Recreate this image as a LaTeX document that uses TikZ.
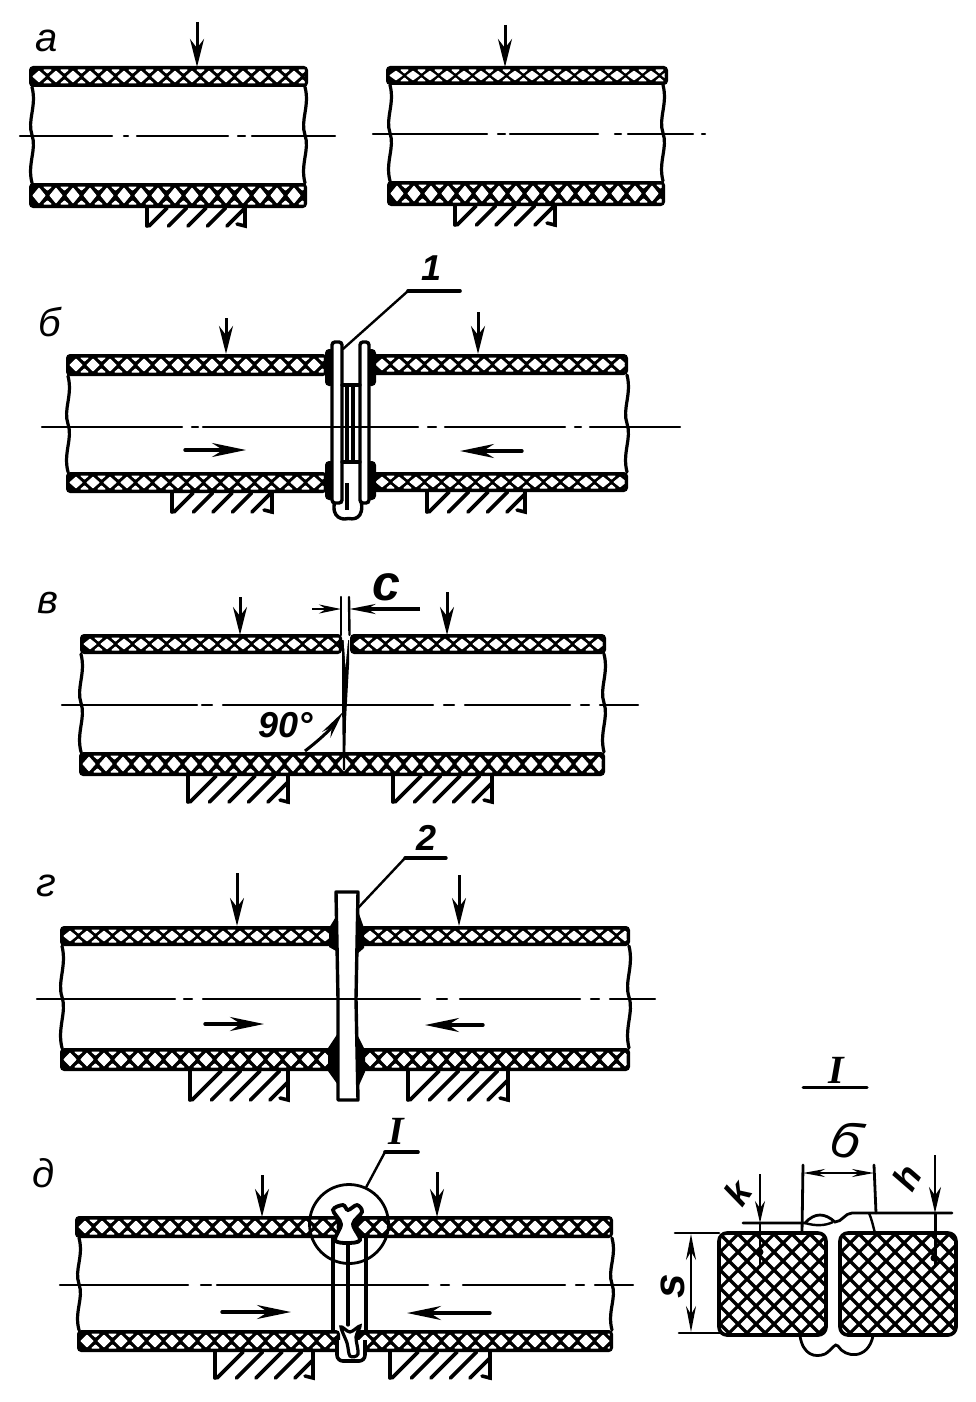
\documentclass[tikz,border=0pt]{standalone}
\usepackage{fontspec}
\usetikzlibrary{arrows.meta}
\newfontfamily\labf{Liberation Sans}
\newfontfamily\labs{Liberation Serif}
\tikzset{
  lab/.style={inner sep=0pt,font=\labf\fontsize{20}{20}\selectfont\itshape},
  labb/.style={inner sep=0pt,font=\labf\fontsize{18}{18}\selectfont\bfseries\itshape},
  labrom/.style={inner sep=0pt,font=\labs\fontsize{20}{20}\selectfont\bfseries\itshape},
  contour/.style={line width=1.6pt,line cap=round},
  thinl/.style={line width=1.2pt,line cap=round},
  centerl/.style={line width=1.2pt,line cap=round},
  load/.style={line width=1.5pt,-{Stealth[length=14pt,width=7pt]}},
  flow/.style={line width=1.7pt,line cap=round,-{Stealth[length=17pt,width=7pt]}},
  dim/.style={line width=1pt,-{Stealth[length=10pt,width=4pt]}},
  hatchl/.style={line width=1.8pt,line cap=round},
  plate/.style={line width=1.7pt,fill=white,rounded corners=1.5pt},
  blob/.style={fill=white,draw=white,line width=0.5pt,line join=round}
}
% wall band: x1,x2,ytop,ybottom
\newcommand\wall[4]{%
  \fill[rounded corners=2pt] (#1,#3) rectangle (#2,#4);
  \begin{scope}
    \clip ({#1+3.5},{#3+3.5}) rectangle ({#2-3.5},{#4-3.5});
    \pgfmathsetmacro\ym{(#3+#4)/2}
    \pgfmathsetmacro\hd{(#4-#3)/2-5.2}
    \pgfmathtruncatemacro\nn{(#2-#1)/17}
    \foreach \n in {0,...,\nn}{
      \pgfmathsetmacro\kk{#1+10+17*\n}
      \path[blob] ({\kk-6},\ym) -- (\kk,{\ym-\hd}) -- ({\kk+6},\ym) -- (\kk,{\ym+\hd}) -- cycle;
      \path[blob] ({\kk+5},{#3+4}) -- ({\kk+12},{#3+4}) -- ({\kk+8.5},{#3+7}) -- cycle;
      \path[blob] ({\kk+5},{#4-4}) -- ({\kk+12},{#4-4}) -- ({\kk+8.5},{#4-7}) -- cycle;
    }
  \end{scope}}
% wavy break line: x,y1,y2
\newcommand\brk[3]{%
  \draw[contour] (#1,#2) .. controls ({#1+5},{#2*0.8+#3*0.2}) and ({#1-5},{#2*0.65+#3*0.35}) .. ({#1},{(#2+#3)/2})
     .. controls ({#1+5},{#2*0.35+#3*0.65}) and ({#1-5},{#2*0.2+#3*0.8}) .. (#1,#3);}
% support hatch: x1,x2,y1,y2
\newcommand\supp[4]{%
  \draw[hatchl] (#1,#3) -- (#1,#4);
  \draw[hatchl] (#2,#3) -- (#2,#4) -- ({#2-8},{#4-2});
  \pgfmathsetmacro\hh{#4-#3}
  \begin{scope}
    \clip (#1,#3) rectangle (#2,{#4+1});
    \foreach \n in {0,...,5}{
      \pgfmathsetmacro\kk{#1+2+19.5*\n}
      \draw[hatchl] (\kk,#4) -- ({\kk+\hh},#3);
    }
  \end{scope}}
% detail weave: x1,x2,y1,y2
\newcommand\block[4]{%
  \begin{scope}
    \clip[rounded corners=4pt] (#1,#3) rectangle (#2,#4);
    \foreach \n in {-8,...,14}{
      \pgfmathsetmacro\kk{#1+18*\n}
      \draw[line width=1.6pt] (\kk,#3) -- ({\kk+110},{#3+110});
      \draw[line width=1.6pt] ({\kk+110},#3) -- (\kk,{#3+110});
    }
  \end{scope}
  \draw[line width=1.8pt,rounded corners=4pt] (#1,#3) rectangle (#2,#4);}
% centre line: y, list of x1/x2 strokes
\newcommand\cl[2]{\foreach \p/\q in {#2}{\draw[centerl] (\p,#1) -- (\q,#1);}}
\begin{document}
\begin{tikzpicture}[x=0.5pt,y=-0.5pt]
\useasboundingbox (0,0) rectangle (975,1402);
\fill[white] (0,0) rectangle (975,1402);

% ---------- panel a
\node[lab] (la) at (47,41) {а};
\wall{29}{308}{66}{87}\wall{29}{307}{183}{208}
\brk{32}{87}{183}\brk{305}{87}{183}
\cl{136}{20/112,124/128,137/228,238/245,252/335}
\draw[load] (197,22) -- (197,67);
\supp{147}{245}{208}{226}
\wall{386}{668}{66}{85}\wall{387}{665}{181}{206}
\brk{390}{85}{181}\brk{663}{85}{181}
\cl{134}{373/487,498/505,510/598,615/621,628/693,702/705}
\draw[load] (505,25) -- (505,67);
\supp{455}{555}{206}{225}

% ---------- panel b
\node[lab] (lb) at (50,322) {б};
\wall{66}{327}{354}{376}\wall{372}{628}{354}{375}
\wall{66}{327}{472}{493}\wall{372}{628}{472}{492}
\brk{68}{376}{472}\brk{627}{375}{472}
\cl{427}{42/182,192/198,203/418,428/436,445/565,575/581,590/680}
\draw[load] (226,318) -- (226,354);
\draw[load] (478,312) -- (478,354);
\draw[flow] (185,450) -- (246,450);
\draw[flow] (522,451) -- (460,451);
\supp{172}{272}{493}{512}\supp{427}{525}{492}{512}
% flange
\fill[rounded corners=2pt] (325,349) rectangle (334,386);
\fill[rounded corners=2pt] (325,461) rectangle (334,500);
\fill[rounded corners=2pt] (367,349) rectangle (376,386);
\fill[rounded corners=2pt] (367,461) rectangle (376,500);
\draw[plate] (335,500) .. controls (330,520) and (345,519) .. (348,518) .. controls (352,519) and (365,520) .. (361,500);
\draw[plate] (332,342) rectangle (342,503);
\draw[plate] (360,342) rectangle (369,503);
\draw[contour] (342,385) -- (360,385);\draw[contour] (342,462) -- (360,462);
\foreach \xx in {347,353}{\draw[contour] (\xx,385) -- (\xx,462);}
\draw[line width=1.8pt] (347,483) -- (347,510);
\draw[centerl] (332,427) -- (369,427);
\coordinate (l1a) at (343,349);\coordinate (l1b) at (408,291);\coordinate (l1c) at (460,291);
\draw[thinl] (l1a) -- (l1b);\draw[line width=1.8pt,line cap=round] (l1b) -- (l1c);
\node[labb] (n1) at (432,268) {1};

% ---------- panel v
\node[lab] (lv) at (48,603) {в};
\wall{80}{342}{634}{654}\wall{350}{606}{634}{654}
\wall{79}{605}{752}{776}
\brk{81}{654}{752}\brk{604}{654}{752}
\cl{705}{62/197,202/212,223/433,444/454,465/570,581/589,600/638}
\fill (342,640) -- (349,640) -- (349,665) -- (346,720) -- (345,770) -- (343,770) -- (342,700) -- cycle;
\fill[white] (343,630) -- (349,630) -- (345.5,667) -- cycle;
\coordinate (c1) at (341,597);\coordinate (c2) at (349,597);
\draw[thinl] (c1) -- (341,635);\draw[thinl] (c2) -- (349.5,635);
\draw[line width=1.2pt,-{Stealth[length=11pt,width=4.5pt]}] (312,609) -- (341,609);
\draw[line width=1.6pt,-{Stealth[length=13pt,width=5pt]}] (420,609) -- (349.5,609);
\node[inner sep=0pt,font=\labf\fontsize{25}{25}\selectfont\bfseries\itshape] (lc) at (386,587) {с};
\draw[load] (240,597) -- (240,635);
\draw[load] (447,592) -- (447,635);
\draw[line width=1.5pt,{Stealth[length=14pt,width=5pt]}-] (343,712) to[bend left=8] (305,751);
\node[labb] (l90) at (286,725) {90°};
\supp{188}{288}{776}{802}\supp{393}{492}{776}{802}

% ---------- panel g
\node[lab] (lg) at (46,886) {г};
\wall{60}{334}{926}{946}\wall{360}{630}{926}{946}
\wall{60}{334}{1048}{1071}\wall{360}{630}{1048}{1071}
\brk{62}{946}{1048}\brk{629}{946}{1048}
\cl{999}{37/175,184/192,203/420,437/447,460/580,591/599,610/655}
\draw[load] (237,873) -- (237,926);
\draw[load] (459,875) -- (459,926);
\draw[flow] (205,1024) -- (264,1024);
\draw[flow] (483,1025) -- (425,1025);
\supp{190}{288}{1071}{1100}\supp{408}{508}{1071}{1100}
\fill (329,928) -- (337,915) -- (338,952) -- (329,947) -- cycle;
\fill (357,908) -- (364,928) -- (364,948) -- (356,955) -- cycle;
\fill (328,1048) -- (338,1033) -- (338,1085) -- (328,1071) -- cycle;
\fill (356,1032) -- (365,1050) -- (365,1072) -- (356,1092) -- cycle;
\draw[line width=1.7pt,fill=white,line join=round] (336,892) -- (358,892) -- (356,999) -- (358,1100) -- (338,1100) -- (338,999) -- cycle;
\draw[centerl] (338,999) -- (356,999);
\coordinate (l2a) at (358,908);\coordinate (l2b) at (405,858);\coordinate (l2c) at (446,858);
\draw[thinl] (l2a) -- (l2b);\draw[line width=1.7pt,line cap=round] (l2b) -- (l2c);
\node[labb] (n2) at (427,838) {2};

% ---------- panel d
\node[lab] (ld) at (44,1173) {д};
\wall{75}{340}{1216}{1238}\wall{355}{613}{1216}{1238}
\wall{77}{340}{1330}{1352}\wall{355}{613}{1330}{1352}
\brk{79}{1238}{1330}\brk{612}{1238}{1330}
\cl{1285}{60/188,201/211,217/428,441/449,463/565,576/584,595/633}
\draw[load] (262,1175) -- (262,1217);
\draw[load] (437,1172) -- (437,1217);
\draw[flow] (222,1312) -- (291,1312);
\draw[flow] (490,1313) -- (407,1313);
\supp{215}{313}{1352}{1378}\supp{390}{490}{1352}{1378}
\draw[contour] (333,1238) -- (333,1330);
\draw[contour] (348,1243) -- (348,1325);
\draw[contour] (366,1238) -- (366,1330);
\node[circle,draw,line width=1.4pt,minimum size=39.5pt,inner sep=0pt] (circI) at (349,1224) {};
\draw[line width=1.9pt,fill=white] plot[smooth cycle,tension=0.55] coordinates {(333,1210) (343,1205) (348,1210) (357,1205) (362,1212) (353,1224) (360,1240) (347,1243) (335,1240) (341,1224)};
\draw[line width=1.8pt,fill=white,rounded corners=3pt] (337,1340) -- (337,1361) -- (365,1361) -- (365,1340);
\draw[line width=1.6pt,fill=white] plot[smooth cycle,tension=0.55] coordinates {(341,1327) (350,1332) (360,1326) (356,1337) (358,1354) (350,1356) (347,1343)};
\coordinate (l3b) at (385,1152);\coordinate (l3c) at (418,1152);
\draw[thinl] (circI.65) -- (l3b);\draw[line width=1.8pt,line cap=round] (l3b) -- (l3c);
\node[labrom] (nI) at (396,1131) {I};

% ---------- detail I
\node[labrom] (tI) at (836,1070) {I};
\draw[line width=1.5pt,line cap=round] (803,1087) -- (867,1087);
\block{719}{826}{1233}{1335}
\block{840}{956}{1233}{1335}
\draw[line width=1.3pt,line cap=round] (675,1233) -- (719,1233);
\draw[line width=1.3pt,line cap=round] (679,1333) -- (720,1333);
\draw[line width=1pt,{Stealth[length=13pt,width=5pt]}-{Stealth[length=13pt,width=5pt]}] (691,1234) -- (691,1332);
\node[inner sep=0pt,font=\labf\fontsize{22}{22}\selectfont\bfseries\itshape,rotate=90] (ls) at (673,1286) {s};
% weld bead
\draw[line width=1.4pt,line cap=round] (743,1223) -- (805,1223) .. controls (815,1212) and (825,1213) .. (835,1222) .. controls (842,1222) and (845,1213) .. (852,1213) -- (952,1213);
\draw[line width=1.2pt] (805,1223) .. controls (815,1226) and (825,1226) .. (833,1222);
\draw[line width=1.2pt] (869,1213) .. controls (872,1220) and (873,1226) .. (875,1233);
\draw[line width=1.4pt,line cap=round] (803,1165) -- (802,1233);
\draw[line width=1.4pt,line cap=round] (874,1165) -- (876,1213);
\draw[line width=1.2pt,{Stealth[length=11pt,width=4pt]}-{Stealth[length=11pt,width=4pt]}] (803,1173) -- (874,1173);
\node[inner sep=0pt,font=\labf\fontsize{26}{26}\selectfont\itshape,rotate=-15] (lbb) at (846,1139) {б};
\draw[line width=1.1pt,-{Stealth[length=11pt,width=5pt]}] (760,1174) -- (760,1223);
\draw[line width=1.4pt] (760,1223) -- (760,1268);
\fill (760,1252) circle (3.5);
\draw[line width=1.3pt,-{Stealth[length=13pt,width=6pt]}] (935,1155) -- (935,1213);
\draw[line width=1.5pt] (935,1213) -- (935,1265);
\fill (934,1258) circle (3.5);
\node[labb,rotate=55] (lk) at (738,1193) {k};
\node[labb,rotate=60] (lh) at (907,1177) {h};
\draw[line width=1.4pt,line cap=round] (800,1336) .. controls (803,1355) and (815,1358) .. (825,1354) .. controls (832,1350) and (835,1342) .. (838,1346) .. controls (845,1358) and (868,1360) .. (873,1336);
\end{tikzpicture}
\end{document}
